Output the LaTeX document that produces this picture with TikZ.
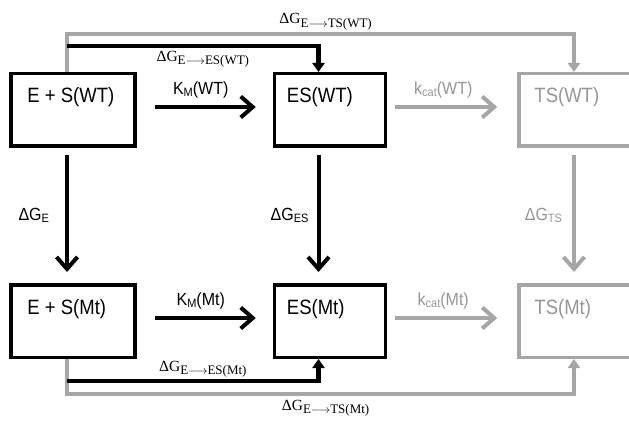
\documentclass[tikz,border=0pt]{standalone}
\usepackage{fontspec}
\setmainfont{Liberation Sans}
\newfontfamily\tms{Liberation Serif}
\usepackage{tikz}
\usetikzlibrary{positioning,arrows.meta}
\definecolor{lgray}{RGB}{166,166,166}
\definecolor{tgray}{RGB}{150,150,150}
\newcommand{\ssub}[1]{\raisebox{-2pt}{\fontsize{11pt}{12pt}\selectfont #1}}
\newcommand{\dsub}[2]{\raisebox{-3.5pt}{\fontsize{13pt}{14pt}\selectfont #1$\longrightarrow$#2}}
\tikzset{
  box/.style={draw, line width=3.5pt, minimum width=124pt, minimum height=72.5pt, inner sep=0pt},
  gbox/.style={box, draw=lgray},
  btxt/.style={font=\fontsize{18.5pt}{20pt}\selectfont, inner sep=0pt, anchor=west, yscale=1.12, transform shape},
  gtxt/.style={btxt, text=tgray},
  rxn/.style={-{Straight Barb[length=12pt,width=21pt]}, line width=4pt},
  grxn/.style={rxn, draw=lgray},
  link/.style={-{Triangle[length=9pt,width=12pt]}, line width=4.5pt},
  glink/.style={link, draw=lgray, line width=3.5pt},
  klbl/.style={font=\fontsize{16pt}{18pt}\selectfont, inner sep=1pt, yscale=1.1, transform shape},
  gklbl/.style={klbl, text=tgray},
  dlbl/.style={font=\tms\fontsize{15.5pt}{17pt}\selectfont, inner sep=1pt}
}

\begin{document}
\begin{tikzpicture}[x=1pt, y=1pt]
        \useasboundingbox (0,0) rectangle (629,421);
        \clip (0,0) rectangle (629,421);
        % boxes
        \node[box] (eswt) at (73,311) {};
        \node[box, right=136pt of eswt, minimum width=111pt] (esw) {};
        \node[gbox, right=130pt of esw, minimum width=118pt] (tsw) {};
        \node[box, below=135pt of eswt] (esmt) {};
        \node[box, right=136pt of esmt, minimum width=111pt] (esm) {};
        \node[gbox, right=130pt of esm, minimum width=118pt] (tsm) {};
        \node[btxt] (teswt) at ([xshift=18pt,yshift=-25pt]eswt.north west) {E + S(WT)};
        \node[btxt] (tesw) at ([xshift=14pt,yshift=-25pt]esw.north west) {ES(WT)};
        \node[gtxt] (ttsw) at ([xshift=17pt,yshift=-25pt]tsw.north west) {TS(WT)};
        \node[btxt] (tesmt) at ([xshift=18pt,yshift=-26pt]esmt.north west) {E + S(Mt)};
        \node[btxt] (tesm) at ([xshift=14pt,yshift=-26pt]esm.north west) {ES(Mt)};
        \node[gtxt] (ttsm) at ([xshift=17pt,yshift=-26pt]tsm.north west) {TS(Mt)};
        % reaction arrows
        \draw[rxn, shorten <=18pt, shorten >=17pt] ([yshift=3pt]eswt.east) -- node[klbl, above=6pt, xshift=-4pt] (kmw) {K\ssub{M}(WT)} ([yshift=3pt]esw.west);
        \draw[grxn, shorten <=8pt, shorten >=20pt] ([yshift=3pt]esw.east) -- node[gklbl, above=6pt, xshift=-9pt] (kcw) {k\ssub{cat}(WT)} ([yshift=3pt]tsw.west);
        \draw[rxn, shorten <=18pt, shorten >=17pt] ([yshift=3pt]esmt.east) -- node[klbl, above=6pt, xshift=-4pt] (kmm) {K\ssub{M}(Mt)} ([yshift=3pt]esm.west);
        \draw[grxn, shorten <=8pt, shorten >=20pt] ([yshift=3pt]esm.east) -- node[gklbl, above=6pt, xshift=-9pt] (kcm) {k\ssub{cat}(Mt)} ([yshift=3pt]tsm.west);
        \draw[rxn, shorten <=7pt, shorten >=11pt] ([xshift=-6pt]eswt.south) -- node[klbl, left=15pt] (dge) {ΔG\ssub{E}} ([xshift=-6pt]esmt.north);
        \draw[rxn, shorten <=7pt, shorten >=11pt] ([xshift=-11.5pt]esw.south) -- node[klbl, left=7pt] (dges) {ΔG\ssub{ES}} ([xshift=-11.5pt]esm.north);
        \draw[grxn, shorten <=7pt, shorten >=11pt] ([xshift=-4pt]tsw.south) -- node[gklbl, left=9pt] (dgts) {ΔG\ssub{TS}} ([xshift=-4pt]tsm.north);
        % free energy links
        \draw[glink] ([xshift=-6pt]eswt.north) -- ++(0,38) -| node[dlbl, pos=0.255, above=1pt] (dgtsw) {ΔG\dsub{E}{TS(WT)}} ([xshift=-4pt]tsw.north);
        \coordinate (tjw) at ([xshift=-6pt,yshift=26pt]eswt.north);
        \draw[link] (tjw) -| node[dlbl, pos=0.27, below=1.5pt] (dgesw) {ΔG\dsub{E}{ES(WT)}} ([xshift=-11.5pt]esw.north);
        \draw[glink] ([xshift=-6pt]esmt.south) -- ++(0,-35) -| node[dlbl, pos=0.255, below=3pt] (dgtsm) {ΔG\dsub{E}{TS(Mt)}} ([xshift=-4pt]tsm.south);
        \coordinate (bjm) at ([xshift=-6pt,yshift=-22pt]esmt.south);
        \draw[link] (bjm) -| node[dlbl, pos=0.27, above=0pt] (dgesm) {ΔG\dsub{E}{ES(Mt)}} ([xshift=-11.5pt]esm.south);
      \end{tikzpicture}
\end{document}
